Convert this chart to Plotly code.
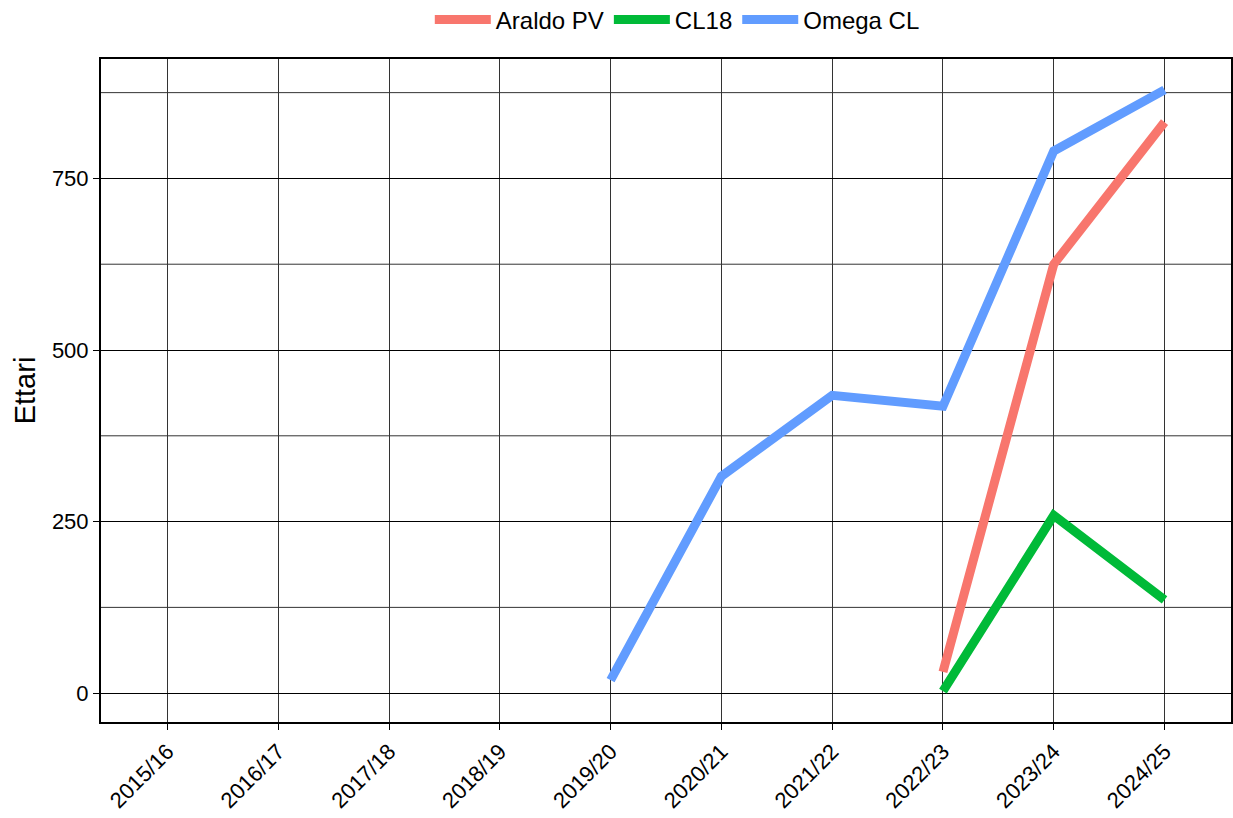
import plotly.graph_objects as go

seasons = ["2015/16", "2016/17", "2017/18", "2018/19", "2019/20",
           "2020/21", "2021/22", "2022/23", "2023/24", "2024/25"]

araldo_x = ["2022/23", "2023/24", "2024/25"]
araldo_y = [31, 625, 832]

cl18_x = ["2022/23", "2023/24", "2024/25"]
cl18_y = [3, 259, 136]

omega_x = ["2019/20", "2020/21", "2021/22", "2022/23", "2023/24", "2024/25"]
omega_y = [19, 316, 434, 418, 790, 879]

y_ticks = [0, 250, 500, 750]
y_minor = [125, 375, 625, 875]

fig = go.Figure()
for name, xs, ys, color in [
    ("Araldo PV", araldo_x, araldo_y, "#F8766D"),
    ("CL18", cl18_x, cl18_y, "#00BA38"),
    ("Omega CL", omega_x, omega_y, "#619CFF"),
]:
    fig.add_trace(go.Scatter(x=xs, y=ys, name=name, mode="lines",
                             line=dict(color=color, width=9)))

# minor gridlines
for v in y_minor:
    fig.add_hline(y=v, line=dict(color="#333", width=1), layer="below")

fig.update_xaxes(
    type="category", categoryorder="array", categoryarray=seasons,
    tickvals=seasons, range=[-0.6, 9.6], automargin=False,
    tickangle=-45, ticks="outside", ticklen=6, tickcolor="black",
    showgrid=True, gridcolor="#333", gridwidth=1,
    showline=True, linecolor="black", linewidth=2, mirror=True,
    tickfont=dict(size=22, color="black"),
)
fig.update_yaxes(
    range=[-42, 924], tickvals=y_ticks, automargin=False,
    ticks="outside", ticklen=6, tickcolor="black",
    showgrid=True, gridcolor="black", gridwidth=1, zeroline=False,
    showline=True, linecolor="black", linewidth=2, mirror=True,
    tickfont=dict(size=22, color="black"),
    title=dict(text="Ettari", font=dict(size=29, color="black"), standoff=8),
)
fig.update_layout(
    width=1233, height=818,
    paper_bgcolor="white", plot_bgcolor="white",
    font=dict(family="Liberation Sans, Arial, sans-serif", color="black"),
    margin=dict(l=101, r=2, t=59, b=96, autoexpand=False),
    legend=dict(orientation="h", x=0.51, xanchor="center", y=1.059, yanchor="middle",
                font=dict(size=24), itemwidth=56),
    showlegend=True,
)
fig.write_html("out.html", config={"displayModeBar": False},
               post_script="document.body.style.margin='0';")
